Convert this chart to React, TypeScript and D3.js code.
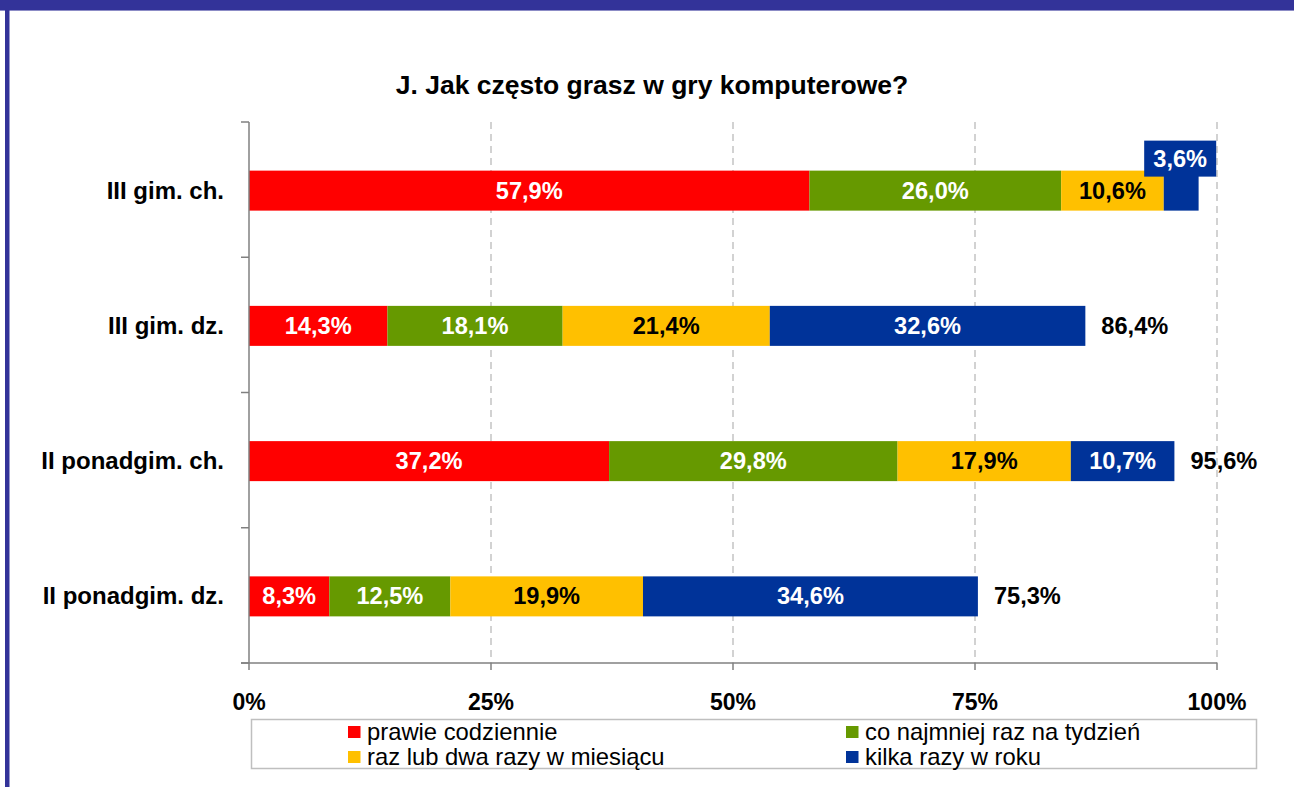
import React from 'react';
import * as d3 from 'd3';

const categories = ['III gim. ch.', 'III gim. dz.', 'II ponadgim. ch.', 'II ponadgim. dz.'];
const seriesNames = ['prawie codziennie', 'co najmniej raz na tydzień', 'raz lub dwa razy w miesiącu', 'kilka razy w roku'];
const codziennie = [57.9, 14.3, 37.2, 8.3];
const tydzien = [26.0, 18.1, 29.8, 12.5];
const miesiac = [10.6, 21.4, 17.9, 19.9];
const rok = [3.6, 32.6, 10.7, 34.6];
const showTotal = [false, true, true, true];
const xTicks = [0, 25, 50, 75, 100];

const colors = ['#FF0000', '#669900', '#FFC000', '#003399'];
const labelColors = ['#FFFFFF', '#FFFFFF', '#000000', '#FFFFFF'];

const W = 1294;
const H = 787;
const fmt = (v: number) => v.toFixed(1).replace('.', ',') + '%';

const App: React.FC = () => {
    const x = d3.scaleLinear().domain([0, 100]).range([249, 1217]);
    const y = d3.scaleBand<string>().domain(categories).range([122, 663]).padding(0);
    const barH = 40;

    const stack = d3.stack<number>()
        .keys([0, 1, 2, 3].map(String))
        .value((i, k) => [codziennie, tydzien, miesiac, rok][+k][i]);
    const layers = stack(categories.map((_, i) => i));

    const bandTops = categories.map(c => y(c) as number).concat([663]);
    const font = '"Liberation Sans", Arial, sans-serif';
    const valSize = 23.6;

    return (
        <div style={{ position: 'fixed', left: 0, top: 0 }}>
            <svg width={W} height={H} style={{ display: 'block', background: '#fff' }}>
                {/* frame */}
                <rect x={0} y={0} width={W} height={10} fill="#333399" />
                <rect x={0} y={10} width={W} height={1} fill="#8c8cc6" />
                <rect x={5} y={10} width={4.5} height={H - 10} fill="#333399" />

                {/* title */}
                <text x={652} y={94} textAnchor="middle" fontFamily={font} fontWeight="bold" fontSize={26.5} fill="#000">
                    J. Jak często grasz w gry komputerowe?
                </text>

                {/* gridlines */}
                {xTicks.slice(1).map(t => (
                    <line key={'g' + t} x1={x(t)} x2={x(t)} y1={122} y2={663}
                        stroke="#C4C4C4" strokeWidth={1.5} strokeDasharray="7,5" />
                ))}

                {/* bars */}
                {layers.map((layer, si) => layer.map((d, ci) => {
                    const cy = (y(categories[ci]) as number) + y.bandwidth() / 2 + 1;
                    const x0 = x(d[0]);
                    const x1 = x(d[1]);
                    return (
                        <rect key={`b${si}-${ci}`} x={x0} y={cy - barH / 2} width={x1 - x0} height={barH} fill={colors[si]} />
                    );
                }))}

                {/* axes */}
                <line x1={249} x2={249} y1={122} y2={663} stroke="#808080" strokeWidth={1.5} />
                <line x1={241} x2={x(100)} y1={663} y2={663} stroke="#808080" strokeWidth={1.5} />
                {bandTops.map((t, i) => (
                    <line key={'yt' + i} x1={241} x2={249} y1={t} y2={t} stroke="#808080" strokeWidth={1.5} />
                ))}
                {xTicks.map(t => (
                    <line key={'xt' + t} x1={x(t)} x2={x(t)} y1={663} y2={670} stroke="#808080" strokeWidth={1.5} />
                ))}
                {xTicks.map(t => (
                    <text key={'xl' + t} x={x(t)} y={710} textAnchor="middle" fontFamily={font} fontWeight="bold" fontSize={23} fill="#000">
                        {t + '%'}
                    </text>
                ))}

                {/* category labels */}
                {categories.map(c => (
                    <text key={c} x={224} y={(y(c) as number) + y.bandwidth() / 2 + 9} textAnchor="end"
                        fontFamily={font} fontWeight="bold" fontSize={24} fill="#000">
                        {c}
                    </text>
                ))}

                {/* value labels */}
                {layers.map((layer, si) => layer.map((d, ci) => {
                    const cy = (y(categories[ci]) as number) + y.bandwidth() / 2 + 1;
                    const v = d[1] - d[0];
                    const mx = (x(d[0]) + x(d[1])) / 2;
                    const narrow = x(d[1]) - x(d[0]) < 60;
                    if (narrow) {
                        const ly = cy - 32;
                        return (
                            <g key={`l${si}-${ci}`}>
                                <rect x={mx - 37} y={ly - 18} width={72} height={36} fill={colors[si]} />
                                <text x={mx - 1} y={ly + 8} textAnchor="middle" fontFamily={font} fontWeight="bold" fontSize={valSize} fill={labelColors[si]}>
                                    {fmt(v)}
                                </text>
                            </g>
                        );
                    }
                    return (
                        <text key={`l${si}-${ci}`} x={mx} y={cy + 8} textAnchor="middle" fontFamily={font} fontWeight="bold" fontSize={valSize} fill={labelColors[si]}>
                            {fmt(v)}
                        </text>
                    );
                }))}

                {/* totals */}
                {categories.map((c, ci) => {
                    if (!showTotal[ci]) return null;
                    const total = layers[3][ci][1];
                    const cy = (y(c) as number) + y.bandwidth() / 2 + 1;
                    return (
                        <text key={'t' + c} x={x(total) + 16} y={cy + 8} fontFamily={font} fontWeight="bold" fontSize={valSize} fill="#000">
                            {fmt(total)}
                        </text>
                    );
                })}

                {/* legend */}
                <rect x={251.5} y={719.5} width={1005} height={49} fill="#fff" stroke="#BFBFBF" strokeWidth={1.5} />
                {seriesNames.map((n, i) => {
                    const col = i % 2;
                    const row = Math.floor(i / 2);
                    const sx = col === 0 ? 348 : 846;
                    const sy = 726 + row * 25;
                    return (
                        <g key={n}>
                            <rect x={sx} y={sy} width={12.5} height={12} fill={colors[i]} />
                            <text x={sx + 19} y={sy + 14} fontFamily={font} fontSize={23.8} fill="#000">{n}</text>
                        </g>
                    );
                })}
            </svg>
        </div>
    );
};

export default App;
